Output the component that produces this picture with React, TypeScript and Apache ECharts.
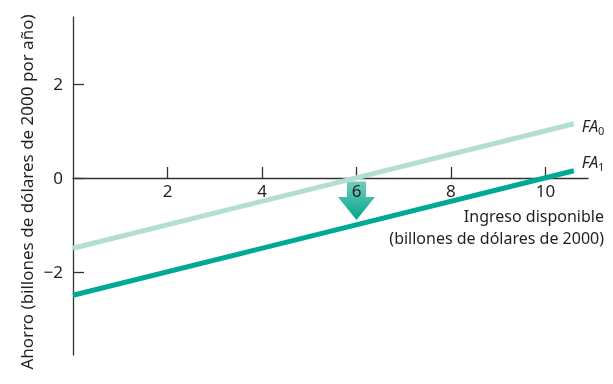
import React, { useEffect, useRef } from "react";
import * as echarts from "echarts";

const xTicks = [2, 4, 6, 8, 10];
const yTicks = [-2, 0, 2];
const fa0 = [
  [0, -1.5],
  [10.6, 1.15],
];
const fa1 = [
  [0, -2.5],
  [10.6, 0.15],
];
// shift arrow: at x, from y0 to y1
const shiftArrow = [[6, -0.08, -0.9]];
const yTitle = "Ahorro (billones de dólares de 2000 por año)";
const xTitle = "Ingreso disponible\n(billones de dólares de 2000)";

const FONT = "'Noto Sans', sans-serif";
const TEXT = "#231f20";

export default function App() {
  const ref = useRef<HTMLDivElement>(null);
  useEffect(() => {
    document.body.style.margin = "0";
    const chart = echarts.init(ref.current!, null, { renderer: "svg" });
    chart.setOption({
      animation: false,
      grid: { left: 73, right: 25, top: 17, bottom: 29 },
      xAxis: {
        type: "value",
        min: 0,
        max: 10.9,
        z: 1,
        offset: -177,
        splitLine: { show: false },
        axisLine: { show: true, onZero: false, lineStyle: { color: "#333", width: 1.3 } },
        axisTick: { show: true, inside: true, length: 11, customValues: xTicks, lineStyle: { color: "#333", width: 1.3 } },
        axisLabel: { customValues: xTicks, color: TEXT, fontSize: 17, fontFamily: FONT, margin: 4 },
      },
      yAxis: {
        type: "value",
        min: -3.77,
        max: 3.42,
        z: 1,
        splitLine: { show: false },
        axisLine: { show: true, onZero: false, lineStyle: { color: "#333", width: 1.3 } },
        axisTick: { show: true, inside: true, length: 11, customValues: yTicks, lineStyle: { color: "#333", width: 1.3 } },
        axisLabel: {
          customValues: yTicks,
          color: TEXT,
          fontSize: 17,
          fontFamily: FONT,
          margin: 10,
          formatter: (v: number) => (v < 0 ? "\u2212" + Math.abs(v) : String(v)),
        },
      },
      graphic: [
        {
          type: "text",
          x: 26,
          y: 192,
          rotation: Math.PI / 2,
          style: {
            text: yTitle,
            font: `17px ${FONT}`,
            fill: TEXT,
            align: "center",
            verticalAlign: "middle",
          },
        },
        {
          type: "text",
          x: 604,
          y: 205,
          style: {
            text: xTitle,
            font: `16px ${FONT}`,
            fill: TEXT,
            align: "right",
            verticalAlign: "top",
            lineHeight: 22,
          },
        },
      ],
      series: [
        {
          type: "custom",
          z: 0.5,
          data: shiftArrow,
          renderItem: (params: any, api: any) => {
            const top = api.coord([api.value(0), api.value(1)]);
            const tip = api.coord([api.value(0), api.value(2)]);
            const cx = top[0];
            const sw = 9.5;
            const hw = 18.5;
            const headTop = tip[1] - 23;
            return {
              type: "polygon",
              shape: {
                points: [
                  [cx - sw, top[1]],
                  [cx + sw, top[1]],
                  [cx + sw, headTop],
                  [cx + hw, headTop],
                  [cx, tip[1]],
                  [cx - hw, headTop],
                  [cx - sw, headTop],
                ],
              },
              style: {
                fill: new echarts.graphic.LinearGradient(0, 0, 0, 1, [
                  { offset: 0, color: "#72cdb9" },
                  { offset: 1, color: "#00a58d" },
                ]),
              },
            };
          },
        },
        {
          type: "line",
          data: fa0,
          symbol: "none",
          z: 2,
          lineStyle: { color: "#b3dfd2", width: 5 },
          endLabel: {
            show: true,
            formatter: () => "{i|FA}{s|0}",
            offset: [0, 2],
            rich: {
              i: { fontStyle: "italic", fontSize: 16, fontFamily: FONT, color: TEXT },
              s: { fontSize: 11, fontFamily: FONT, color: TEXT, padding: [10, 0, 0, 0] },
            },
          },
        },
        {
          type: "line",
          data: fa1,
          symbol: "none",
          z: 2,
          lineStyle: { color: "#00a994", width: 5 },
          endLabel: {
            show: true,
            formatter: () => "{i|FA}{s|1}",
            offset: [0, -9],
            rich: {
              i: { fontStyle: "italic", fontSize: 16, fontFamily: FONT, color: TEXT },
              s: { fontSize: 11, fontFamily: FONT, color: TEXT, padding: [10, 0, 0, 0] },
            },
          },
        },
      ],
    });
    return () => chart.dispose();
  }, []);
  return <div ref={ref} style={{ position: "fixed", left: 0, top: 0, width: 613, height: 384 }} />;
}
